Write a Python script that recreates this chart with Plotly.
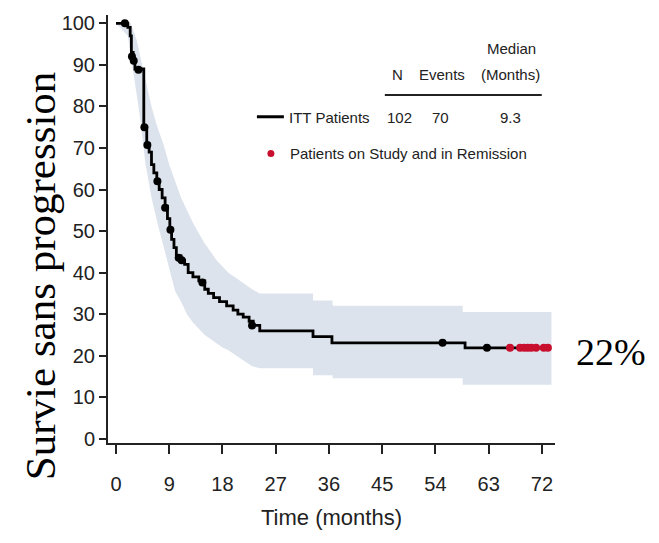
import plotly.graph_objects as go

# Kaplan-Meier step curve (ITT patients)
km_time = [0, 2.0, 2.4, 2.6, 2.9, 3.2, 4.7, 5.2, 5.6, 6.0, 6.4, 6.9, 7.3, 7.8, 8.3, 8.7,
           9.1, 9.4, 9.8, 10.2, 11.0, 11.6, 12.2, 13.0, 14.0, 15.0, 15.6, 16.5, 17.5,
           18.7, 19.8, 20.6, 21.5, 22.5, 23.2, 24.3, 33.3, 36.5, 59.0, 73.0]
km_surv = [100, 99, 97, 93, 91, 89, 75, 71, 69, 66, 64, 62, 60, 58, 56, 53,
           50.5, 48, 46, 44, 43, 42, 40, 39, 38, 36, 35, 34, 33,
           32, 31, 30, 29.3, 28.3, 27.3, 26, 24.6, 23.1, 21.9, 21.9]

# Confidence band (upper and lower bounds)
ci_up_time = [0, 2.5, 3.5, 5, 6, 7, 8, 9, 10, 11, 12, 13, 14, 15, 16, 17, 18, 19, 20,
              21, 22, 23, 24.3, 33.3, 33.3, 36.6, 36.6, 58.6, 58.6, 73.6]
ci_upper = [100, 100, 96, 86, 80, 75, 71, 66, 62, 58, 55, 52, 49.5, 47, 45, 43,
            41.5, 40, 39, 38, 37, 36, 35, 35, 33.3, 33.3, 32, 32, 30.5, 30.5]
ci_lo_time = [0, 2, 3, 4, 5, 6, 7, 8, 9, 10, 11, 12, 13, 14, 15, 16, 17, 18, 19, 20,
              21, 22, 23, 24.3, 33.3, 33.3, 36.6, 36.6, 58.6, 58.6, 73.6]
ci_lower = [100, 97, 88, 78, 66, 58, 52, 46, 41, 35.5, 33, 30, 28, 26.5, 25, 24, 23,
            22, 21.3, 20.5, 19.5, 18.5, 17.5, 17, 17, 15.3, 15.3, 14.6, 14.6, 13, 13]

# Censored observations
cens_time = [1.5, 2.7, 3.0, 3.8, 4.8, 5.3, 7.0, 8.3, 9.2, 10.6, 11.1, 14.6, 23.0, 55.2, 62.7]
cens_surv = [100, 92, 91, 88.8, 75, 70.7, 62, 55.6, 50.3, 43.6, 43, 37.6, 27.3, 23.1, 21.9]

# Patients on study and in remission
rem_time = [66.6, 68.3, 69.0, 69.6, 70.2, 71.0, 72.3, 73.0]
rem_surv = [21.9, 21.9, 21.9, 21.9, 21.9, 21.9, 21.9, 21.9]

x_ticks = [0, 9, 18, 27, 36, 45, 54, 63, 72]
y_ticks = [0, 10, 20, 30, 40, 50, 60, 70, 80, 90, 100]

SANS = "Liberation Sans, Arial, sans-serif"
SERIF = "Liberation Serif, Times New Roman, serif"
BAND = "rgb(221,227,237)"
RED = "#c8102e"

fig = go.Figure()
# band polygon: upper forward, lower backward
fig.add_trace(go.Scatter(x=ci_up_time + ci_lo_time[::-1], y=ci_upper + ci_lower[::-1],
                         mode="lines", line=dict(width=0), fill="toself", fillcolor=BAND,
                         hoverinfo="skip", showlegend=False))
fig.add_trace(go.Scatter(x=km_time, y=km_surv, mode="lines",
                         line=dict(color="black", width=2.8, shape="hv"), showlegend=False))
fig.add_trace(go.Scatter(x=cens_time, y=cens_surv, mode="markers",
                         marker=dict(color="black", size=8), showlegend=False))
fig.add_trace(go.Scatter(x=rem_time, y=rem_surv, mode="markers",
                         marker=dict(color=RED, size=8), showlegend=False))

fig.update_layout(
    width=659, height=543,
    margin=dict(l=108, r=104, t=12, b=100),
    plot_bgcolor="white", paper_bgcolor="white",
    font=dict(family=SANS, color="#222"),
    xaxis=dict(range=[-1.35, 74.2], tickvals=x_ticks, showline=True, linecolor="#222",
               linewidth=2, ticks="outside", ticklen=9, tickwidth=2, tickcolor="#222",
               showgrid=False, zeroline=False, tickfont=dict(size=20, family=SANS),
               ticklabelstandoff=13,
               title=dict(text="Time (months)", font=dict(size=22, family=SANS), standoff=16)),
    yaxis=dict(range=[-1, 102], tickvals=y_ticks, showline=True, linecolor="#222",
               linewidth=2, ticks="outside", ticklen=7, tickwidth=2, tickcolor="#222",
               showgrid=False, zeroline=False, tickfont=dict(size=20, family=SANS)),
)

# Y title (serif, rotated)
fig.add_annotation(text="Survie sans progression", xref="paper", yref="paper",
                   x=-0.152, y=0.39, textangle=-90, showarrow=False,
                   font=dict(family=SERIF, size=43, color="black"),
                   xanchor="center", yanchor="middle")
# 22% label
fig.add_annotation(text="22%", xref="paper", yref="y", x=1.042, y=21, xanchor="left",
                   yanchor="middle", showarrow=False,
                   font=dict(family=SERIF, size=38, color="black"))

# Legend table
hdr_font = dict(family=SANS, size=15, color="#222")
px = lambda X: (X - 116) / 5.92
py = lambda Y: (439 - Y) / 4.18
for txt, X, Y in [("Median", 512, 46), ("N", 398, 72), ("Events", 442, 72), ("(Months)", 511, 72),
                  ("ITT Patients", 330, 116), ("102", 400, 116), ("70", 441, 116), ("9.3", 511, 116),
                  ("Patients on Study and in Remission", 409, 152)]:
    fig.add_annotation(text=txt, x=px(X), y=py(Y), xref="x", yref="y", showarrow=False,
                       font=hdr_font, xanchor="center", yanchor="middle")
fig.add_shape(type="line", x0=px(385), x1=px(542), y0=py(93), y1=py(93), xref="x", yref="y",
              line=dict(color="#222", width=2))
fig.add_shape(type="line", x0=px(257), x1=px(284), y0=py(115), y1=py(115), xref="x", yref="y",
              line=dict(color="black", width=3))
fig.add_trace(go.Scatter(x=[px(271)], y=[py(152)], mode="markers",
                         marker=dict(color=RED, size=7), showlegend=False, hoverinfo="skip"))

fig.write_html("out.html")
